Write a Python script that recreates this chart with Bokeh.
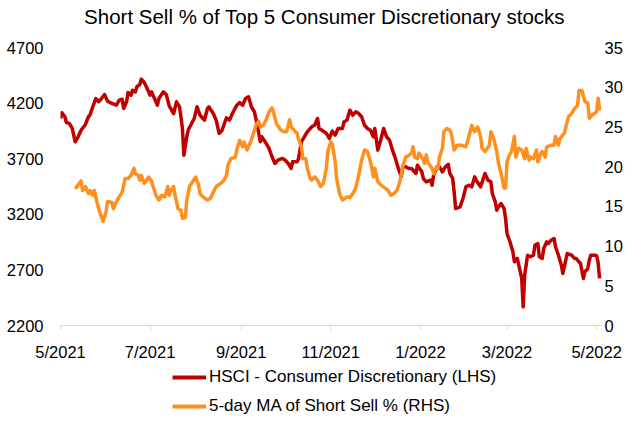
import pandas as pd
from bokeh.plotting import figure
from bokeh.layouts import column
from bokeh.models import (Range1d, LinearAxis, FixedTicker, CustomJSTickFormatter,
                          Legend, LegendItem, Label)
from bokeh.embed import file_html
from bokeh.resources import INLINE

START = pd.Timestamp("2021-05-01")
END = pd.Timestamp("2022-05-05")

# HSCI - Consumer Discretionary (LHS): days since 2021-05-01 and index level
red_days = [0, 1, 3, 4, 6, 8, 10, 12, 14, 17, 19, 20, 22, 24, 26, 27, 30, 32, 35, 38,
            40, 42, 43, 45, 46, 48, 49, 51, 52, 54, 55, 57, 59, 61, 62, 66, 67, 70, 72, 74,
            77, 79, 81, 82, 83, 84, 86, 87, 89, 91, 93, 95, 96, 98, 100, 101, 104, 106, 108, 110,
            112, 113, 115, 117, 120, 122, 124, 126, 128, 130, 132, 134, 136, 137, 140, 142, 144, 146, 148, 151,
            153, 155, 157, 158, 161, 162, 164, 166, 168, 171, 173, 175, 176, 178, 181, 183, 185, 187, 189, 192,
            193, 195, 197, 199, 201, 203, 205, 207, 209, 211, 213, 214, 216, 218, 220, 222, 224, 226, 228, 230,
            232, 233, 235, 237, 239, 242, 243, 246, 247, 249, 252, 253, 254, 256, 258, 260, 262, 264, 265, 267,
            268, 269, 272, 274, 276, 278, 280, 282, 283, 286, 288, 289, 291, 293, 294, 296, 297, 299, 300, 302,
            303, 304, 306, 308, 309, 311, 312, 314, 315, 316, 318, 320, 322, 323, 325, 326, 328, 329, 331, 332,
            334, 336, 337, 339, 341, 342, 344, 345, 348, 350, 351, 353, 354, 356, 357, 359, 360, 361, 364, 365,
            366, 367]
red_vals = [4061, 4113, 4077, 4025, 4017, 3972, 3852, 3897, 3956, 4008, 4077, 4091, 4167, 4241, 4212, 4226, 4277, 4218, 4197, 4181,
            4226, 4235, 4151, 4212, 4295, 4271, 4316, 4301, 4347, 4367, 4415, 4385, 4331, 4271, 4301, 4181, 4241, 4301, 4277, 4176,
            4106, 4212, 4167, 4077, 3972, 3731, 3900, 3960, 4010, 4061, 4167, 4091, 4077, 4046, 4151, 4167, 4106, 4046, 3927, 3956,
            4032, 4068, 4046, 4106, 4181, 4205, 4181, 4241, 4257, 4167, 4122, 4001, 3852, 3897, 3837, 3792, 3717, 3657, 3687, 3702,
            3687, 3657, 3612, 3672, 3672, 3696, 3852, 3897, 3942, 3987, 4001, 4061, 3972, 3956, 3927, 3882, 3948, 3912, 3972, 3972,
            4032, 4046, 4136, 4091, 4122, 4106, 4077, 4001, 3972, 3956, 3897, 3972, 3777, 3867, 3972, 3897, 3867, 3777, 3702, 3612,
            3537, 3627, 3627, 3612, 3612, 3567, 3642, 3582, 3522, 3492, 3507, 3462, 3552, 3612, 3627, 3582, 3627, 3650, 3570, 3522,
            3402, 3252, 3267, 3342, 3447, 3462, 3447, 3537, 3507, 3447, 3528, 3567, 3507, 3492, 3387, 3312, 3237, 3282, 3297, 3252,
            3162, 3027, 2953, 2863, 2773, 2803, 2742, 2623, 2368, 2652, 2832, 2818, 2832, 2922, 2937, 2818, 2803, 2892, 2953, 2937,
            2967, 2982, 2908, 2832, 2742, 2668, 2787, 2847, 2832, 2803, 2803, 2773, 2758, 2623, 2683, 2712, 2787, 2832, 2832, 2827,
            2767, 2623]

# 5-day MA of Short Sell % (RHS)
ora_days = [10, 12, 14, 15, 17, 19, 20, 22, 23, 25, 27, 29, 31, 32, 35, 36, 38, 40, 42, 44,
            46, 48, 50, 51, 53, 54, 55, 57, 58, 60, 62, 63, 65, 67, 69, 71, 72, 73, 74, 75,
            77, 78, 80, 82, 83, 85, 86, 88, 90, 92, 94, 95, 97, 100, 102, 104, 106, 109, 111, 113,
            114, 116, 119, 120, 122, 124, 125, 127, 129, 131, 133, 135, 136, 138, 140, 142, 144, 145, 147, 150,
            152, 154, 156, 157, 159, 161, 162, 164, 165, 167, 168, 170, 171, 173, 175, 177, 179, 181, 182, 184,
            185, 187, 188, 190, 192, 195, 197, 199, 201, 203, 205, 207, 209, 211, 212, 213, 214, 216, 218, 221,
            223, 225, 227, 229, 231, 233, 235, 237, 239, 240, 241, 243, 244, 246, 248, 249, 250, 252, 253, 254,
            256, 257, 258, 260, 261, 263, 265, 266, 268, 270, 273, 276, 278, 280, 282, 284, 286, 287, 289, 292,
            293, 295, 297, 298, 300, 302, 303, 304, 305, 307, 309, 310, 312, 314, 316, 317, 319, 320, 322, 324,
            325, 327, 328, 330, 331, 334, 336, 337, 339, 340, 342, 343, 345, 346, 348, 350, 352, 353, 355, 357,
            359, 360, 362, 365, 366, 367, 368]
ora_vals = [17.2, 17.7, 18.2, 17.0, 17.5, 16.6, 17.0, 16.4, 17.0, 15.4, 14.1, 13.1, 14.3, 15.6, 15.5, 14.7, 15.6, 16.2, 16.8, 18.5,
            18.5, 18.9, 19.8, 19.1, 18.9, 18.3, 18.9, 17.9, 18.1, 18.7, 18.2, 17.5, 16.4, 15.8, 16.4, 16.2, 16.8, 17.5, 16.4, 17.0,
            17.5, 16.4, 14.7, 14.5, 13.5, 13.6, 15.8, 17.6, 18.1, 18.7, 17.7, 16.6, 16.2, 15.8, 16.0, 16.8, 17.5, 17.9, 18.2, 18.9,
            20.2, 21.0, 21.2, 22.1, 23.3, 22.5, 23.1, 22.1, 22.9, 24.0, 25.2, 25.7, 25.0, 25.2, 25.9, 26.9, 27.4, 26.9, 25.4, 24.6,
            24.4, 24.4, 25.9, 25.0, 24.6, 24.2, 23.5, 22.5, 21.0, 21.0, 19.8, 18.5, 18.3, 18.7, 18.3, 17.5, 17.9, 19.8, 21.9, 23.1,
            22.9, 20.6, 18.5, 16.6, 15.8, 16.2, 16.1, 16.6, 17.3, 18.9, 20.8, 22.1, 21.9, 20.6, 19.8, 18.7, 19.8, 18.1, 17.7, 17.3,
            17.0, 16.4, 16.6, 17.0, 18.1, 20.0, 21.2, 21.4, 21.7, 22.5, 21.2, 21.0, 21.7, 21.2, 20.4, 21.5, 20.6, 20.0, 19.8, 19.1,
            20.0, 19.8, 21.2, 22.3, 24.4, 24.8, 24.6, 24.2, 22.1, 22.7, 22.7, 22.5, 23.8, 25.2, 24.4, 25.0, 23.8, 22.3, 21.9, 22.7,
            24.4, 23.5, 21.9, 20.6, 19.1, 17.3, 17.3, 20.6, 21.2, 21.9, 23.8, 21.2, 22.3, 22.1, 21.0, 22.3, 20.8, 21.2, 21.0, 22.1,
            20.6, 21.7, 21.9, 21.2, 22.5, 22.7, 22.7, 23.8, 22.7, 23.5, 24.0, 24.2, 25.7, 26.3, 26.7, 27.3, 27.7, 29.6, 29.6, 28.2,
            28.0, 26.1, 26.5, 26.9, 28.6, 27.3, 27.3]

tick_dates = ["2021-05-01", "2021-07-01", "2021-09-01", "2021-11-01",
              "2022-01-01", "2022-03-01", "2022-05-01"]
left_ticks = [2200, 2700, 3200, 3700, 4200, 4700]
right_ticks = [0, 5, 10, 15, 20, 25, 30, 35]

title_text = "Short Sell % of Top 5 Consumer Discretionary stocks"
red_label = "HSCI - Consumer Discretionary (LHS)"
ora_label = "5-day MA of Short Sell % (RHS)"

RED = "#C00000"
ORANGE = "#FF8F1F"
FONT = "Liberation Sans"

# plot frame spans from the top of the canvas; data area top (4700 / 35) lies 47px below it
FRAME_H = 325
DATA_H = 278
BOTTOM = 40
left_top = 2200 + 2500 * FRAME_H / DATA_H
right_top = 35 * FRAME_H / DATA_H

red_x = START + pd.to_timedelta(red_days, unit="D")
ora_x = START + pd.to_timedelta(ora_days, unit="D")

p = figure(width=625, height=FRAME_H + BOTTOM, x_axis_type="datetime", output_backend="svg",
           toolbar_location=None, x_range=Range1d(START, END),
           y_range=Range1d(2200, left_top),
           min_border_left=60, min_border_right=21, min_border_top=0, min_border_bottom=BOTTOM)
p.extra_y_ranges = {"pct": Range1d(0, right_top)}
p.outline_line_color = None
p.grid.visible = False
p.background_fill_color = "white"
p.border_fill_color = "white"

# x axis
xa = p.xaxis[0]
xa.ticker = FixedTicker(ticks=[pd.Timestamp(d).value / 1e6 for d in tick_dates])
xa.formatter = CustomJSTickFormatter(code="""
    const d = new Date(tick);
    return (d.getUTCMonth() + 1) + "/" + d.getUTCFullYear();
""")
xa.axis_line_color = "#D9D9D9"
xa.major_tick_line_color = "#D9D9D9"
xa.major_tick_out = 5
xa.major_tick_in = 0
xa.minor_tick_line_color = None
xa.major_label_standoff = 12
xa.axis_label_standoff = 0
xa.major_label_text_font = FONT
xa.major_label_text_font_size = "16.5px"
xa.major_label_text_color = "#000000"

# left axis
ya = p.yaxis[0]
ya.ticker = FixedTicker(ticks=left_ticks)
ya.axis_line_color = None
ya.major_tick_line_color = None
ya.major_tick_out = 0
ya.major_tick_in = 0
ya.minor_tick_line_color = None
ya.major_label_standoff = 17
ya.major_label_text_font = FONT
ya.major_label_text_font_size = "16.5px"
ya.major_label_text_color = "#000000"

# right axis
ra = LinearAxis(y_range_name="pct", ticker=FixedTicker(ticks=right_ticks))
ra.axis_line_color = None
ra.major_tick_line_color = None
ra.major_tick_out = 0
ra.major_tick_in = 0
ra.minor_tick_line_color = None
ra.major_label_standoff = 2
ra.axis_label_standoff = 0
ra.major_label_text_font = FONT
ra.major_label_text_font_size = "16.5px"
ra.major_label_text_color = "#000000"
p.add_layout(ra, "right")

p.line(red_x, red_vals, line_color=RED, line_width=3.5, line_join="round")
p.line(ora_x, ora_vals, line_color=ORANGE, line_width=3.5, line_join="round",
       y_range_name="pct")

title = Label(x=264, y=FRAME_H - 16, x_units="screen", y_units="screen", text=title_text,
              text_font=FONT, text_font_size="20.5px", text_align="center",
              text_baseline="middle", text_color="#000000")
p.add_layout(title)
pct = Label(x=556, y=FRAME_H - 15, x_units="screen", y_units="screen", text="%",
            text_font=FONT, text_font_size="16.5px", text_align="center",
            text_baseline="middle", text_color="#000000")
p.add_layout(pct)

# legend strip below the chart (legend glyphs come from hidden copies of the two series)
LEG_H = 416 - FRAME_H - BOTTOM
lf = figure(width=625, height=LEG_H, output_backend="svg", toolbar_location=None,
            x_axis_location=None, y_axis_location=None,
            x_range=Range1d(START, END), y_range=Range1d(2200, 4700),
            min_border_left=0, min_border_right=0, min_border_top=0, min_border_bottom=0)
lf.extra_y_ranges = {"pct": Range1d(0, 35)}
lf.grid.visible = False
lf.outline_line_color = None
lf.background_fill_color = "white"
lf.border_fill_color = "white"
l_red = lf.line(red_x, red_vals, line_color=RED, line_width=4, visible=False)
l_ora = lf.line(ora_x, ora_vals, line_color=ORANGE, line_width=4, visible=False,
                y_range_name="pct")

legend = Legend(items=[LegendItem(label=red_label, renderers=[l_red]),
                       LegendItem(label=ora_label, renderers=[l_ora])],
                location=(112, 0), orientation="vertical")
legend.label_text_font = FONT
legend.label_text_font_size = "17px"
legend.label_text_color = "#000000"
legend.glyph_width = 34
legend.glyph_height = 16
legend.label_height = 16
legend.label_standoff = 3
legend.spacing = 9
legend.padding = 0
legend.margin = 0
legend.border_line_color = None
legend.background_fill_alpha = 0
legend.inactive_fill_alpha = 0
legend.click_policy = "none"
lf.add_layout(legend)

layout = column(p, lf, spacing=0)
open("out.html", "w").write(file_html(layout, INLINE))
